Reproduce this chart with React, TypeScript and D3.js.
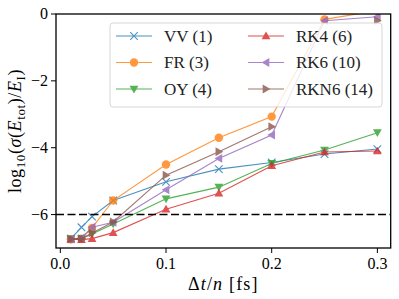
import React from 'react';
import * as d3 from 'd3';

const steps = [0.01, 0.02, 0.03, 0.05, 0.1, 0.15, 0.2, 0.25, 0.3];
const vv = [-6.72, -6.38, -6.06, -5.58, -5.02, -4.64, -4.44, -4.19, -4.04];
const fr = [-6.74, -6.72, -6.4, -5.58, -4.5, -3.7, -3.07, -0.16, 0.1];
const oy = [-6.73, -6.72, -6.58, -6.28, -5.53, -5.18, -4.47, -4.07, -3.55];
const rk4 = [-6.74, -6.75, -6.72, -6.54, -5.84, -5.36, -4.54, -4.13, -4.1];
const rk6 = [-6.73, -6.7, -6.38, -6.23, -5.26, -4.32, -3.62, -0.2, -0.08];
const rkn6 = [-6.73, -6.72, -6.55, -6.22, -4.82, -4.12, -3.37, null, -0.2];

const seriesNames = ['VV (1)', 'FR (3)', 'OY (4)', 'RK4 (6)', 'RK6 (10)', 'RKN6 (14)'];
const seriesValues = [vv, fr, oy, rk4, rk6, rkn6];
const seriesColors = ['#1f77b4', '#ff7f0e', '#2ca02c', '#d62728', '#9467bd', '#8c564b'];
const seriesMarkers = ['x', 'o', 'v', '^', '<', '>'];

const xTicks = [0, 0.1, 0.2, 0.3];
const yTicks = [0, -2, -4, -6];
const refLevel = -6;

const W = 399, H = 299;
const left = 56, right = 390.7, top = 14, bottom = 248;
const font = 'Liberation Serif';

const x = d3.scaleLinear().domain([-0.0041, 0.3126]).range([left, right]);
const y = d3.scaleLinear().domain([-7, 0]).range([bottom, top]);

function Marker({ kind, cx, cy, color }: { kind: string; cx: number; cy: number; color: string }) {
  const r = 4.2;
  if (kind === 'o') return <circle cx={cx} cy={cy} r={r} fill={color} />;
  if (kind === 'x') {
    const d = r * 0.9;
    return (
      <path d={`M${cx - d},${cy - d}L${cx + d},${cy + d}M${cx - d},${cy + d}L${cx + d},${cy - d}`}
        stroke={color} strokeWidth={1.1} fill="none" />
    );
  }
  const rot: Record<string, number> = { '^': 0, 'v': 180, '<': -90, '>': 90 };
  const a = r * 1.05;
  const pts = `0,${-a} ${a},${a * 0.75} ${-a},${a * 0.75}`;
  return <polygon points={pts} fill={color} transform={`translate(${cx},${cy}) rotate(${rot[kind]})`} />;
}

export default function App() {
  const line = d3.line<[number, number | null]>()
    .defined(d => d[1] !== null)
    .x(d => x(d[0]))
    .y(d => y(d[1] as number));

  const legendX = 110, legendY = 23;
  const rows = [36, 62.5, 89];
  const txt = { fontFamily: font };

  return (
    <svg width={W} height={H} style={{ position: 'absolute', left: 0, top: 0, background: '#fff' }}>
      <defs>
        <clipPath id="plot">
          <rect x={left} y={top} width={right - left} height={bottom - top} />
        </clipPath>
      </defs>

      <g clipPath="url(#plot)">
        {seriesValues.map((vals, i) => {
          const pts = steps.map((s, j) => [s, vals[j]] as [number, number | null]);
          return (
            <g key={i} opacity={0.8}>
              <path d={line(pts) || ''} fill="none" stroke={seriesColors[i]} strokeWidth={1.1} />
              {pts.filter(p => p[1] !== null).map((p, j) => (
                <Marker key={j} kind={seriesMarkers[i]} cx={x(p[0])} cy={y(p[1] as number)} color={seriesColors[i]} />
              ))}
            </g>
          );
        })}
        <line x1={left} x2={right} y1={y(refLevel)} y2={y(refLevel)} stroke="#000"
          strokeWidth={1.5} strokeDasharray="8,3.5" />
      </g>

      {/* legend */}
      <rect x={legendX} y={legendY} width={272} height={84} rx={3} fill="#fff" fillOpacity={0.8}
        stroke="#cccccc" strokeOpacity={0.8} strokeWidth={1} />
      {seriesNames.map((name, i) => {
        const col = Math.floor(i / 3);
        const row = i % 3;
        const lx = col === 0 ? 116 : 248;
        const ly = rows[row];
        return (
          <g key={name}>
            <g opacity={0.8}>
              <line x1={lx} x2={lx + 36} y1={ly} y2={ly} stroke={seriesColors[i]} strokeWidth={1.1} />
              <Marker kind={seriesMarkers[i]} cx={lx + 18} cy={ly} color={seriesColors[i]} />
            </g>
            <text x={lx + 48} y={ly + 5.5} style={txt} fontSize={17} fill="#222">{name}</text>
          </g>
        );
      })}

      {/* axes frame */}
      <rect x={left} y={top} width={right - left} height={bottom - top} fill="none" stroke="#000" strokeWidth={1.3} />

      {xTicks.map(t => (
        <g key={t}>
          <line x1={x(t)} x2={x(t)} y1={bottom} y2={bottom + 5} stroke="#000" strokeWidth={1} />
          <text x={x(t)} y={bottom + 21} textAnchor="middle" style={txt} fontSize={16}>{t.toFixed(1)}</text>
        </g>
      ))}
      {yTicks.map(t => (
        <g key={t}>
          <line x1={left - 5} x2={left} y1={y(t)} y2={y(t)} stroke="#000" strokeWidth={1} />
          <text x={left - 8} y={y(t) + 5} textAnchor="end" style={txt} fontSize={16}>
            {t === 0 ? '0' : `\u2212${Math.abs(t)}`}
          </text>
        </g>
      ))}

      <text x={(left + right) / 2} y={290} textAnchor="middle" style={txt} fontSize={18} letterSpacing={1.2}>
        Δ<tspan fontStyle="italic">t</tspan>/<tspan fontStyle="italic">n</tspan> [fs]
      </text>

      <text transform={`translate(21,${(top + bottom) / 2}) rotate(-90)`} textAnchor="middle" style={txt}
        fontSize={18} letterSpacing={0.6}>
        log<tspan fontSize={13} dy={4}>10</tspan>
        <tspan dy={-4}>(</tspan>
        <tspan fontStyle="italic">σ</tspan>(<tspan fontStyle="italic">E</tspan>
        <tspan fontSize={13} dy={4}>tot</tspan>
        <tspan dy={-4}>)/</tspan>
        <tspan fontStyle="italic">E</tspan>
        <tspan fontSize={13} dy={4}>I</tspan>
        <tspan dy={-4}>)</tspan>
      </text>
    </svg>
  );
}
